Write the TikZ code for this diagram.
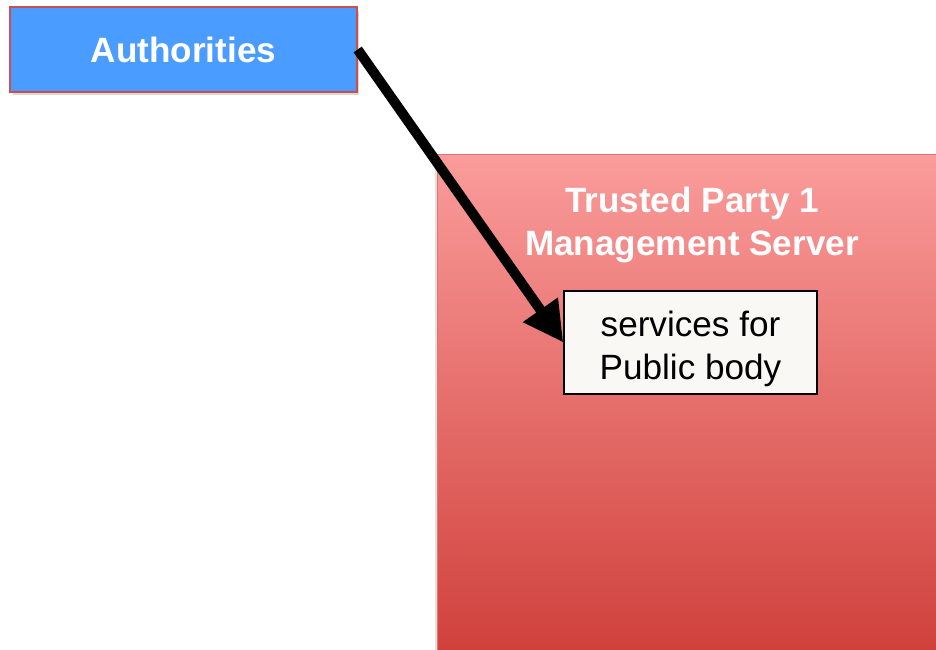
\documentclass[tikz,border=0pt]{standalone}
\usepackage{fontspec}
\setmainfont{Liberation Sans}
\usetikzlibrary{arrows.meta,shadows}

\definecolor{authblue}{HTML}{4A9DFF}
\definecolor{authedge}{HTML}{C9504D}
\definecolor{servertop}{HTML}{FA9C9B}
\definecolor{servermid}{HTML}{EA7473}
\definecolor{serverbot}{HTML}{D0403B}
\definecolor{serveredge}{HTML}{E27472}
\definecolor{svcfill}{HTML}{FAF8F5}

\begin{document}
\begin{tikzpicture}[x=0.02cm, y=-0.02cm,
  box/.style={rectangle, draw, line width=0.8pt, inner sep=0pt,
    align=center, font=\fontsize{20}{24.5}\selectfont}]
  \useasboundingbox (0,0) rectangle (936,649);

  \node [box, fill=authblue, draw=authedge, text=white,
  font=\fontsize{20}{24}\selectfont\bfseries,
  minimum width=6.94cm, minimum height=1.7cm,
  drop shadow={shadow xshift=0.05cm, shadow yshift=-0.07cm, opacity=0.3}]
  (auth) at (183.5,49.5) {Authorities};

  \node [rectangle, draw=serveredge, line width=0.6pt,
  top color=servertop, middle color=servermid, bottom color=serverbot,
  minimum width=10.2cm, minimum height=10cm, anchor=north west,
  drop shadow={shadow xshift=-0.05cm, shadow yshift=-0.03cm, opacity=0.25}]
  (server) at (437,154) {};

  \node [align=center, text=white, inner sep=0pt,
  font=\fontsize{20}{24}\selectfont\bfseries]
  (title) at (692,225) {Trusted Party 1\\Management Server};

  \node [box, fill=svcfill, draw=black, text height=46pt,
  minimum width=5.06cm, minimum height=2.06cm]
  (svc) at (690.5,342.5) {services for\\Public body};

  \draw [line width=0.2cm, -{Triangle[length=0.8cm,width=0.8cm]}]
  (auth.east) -- (svc.west);
\end{tikzpicture}
\end{document}
